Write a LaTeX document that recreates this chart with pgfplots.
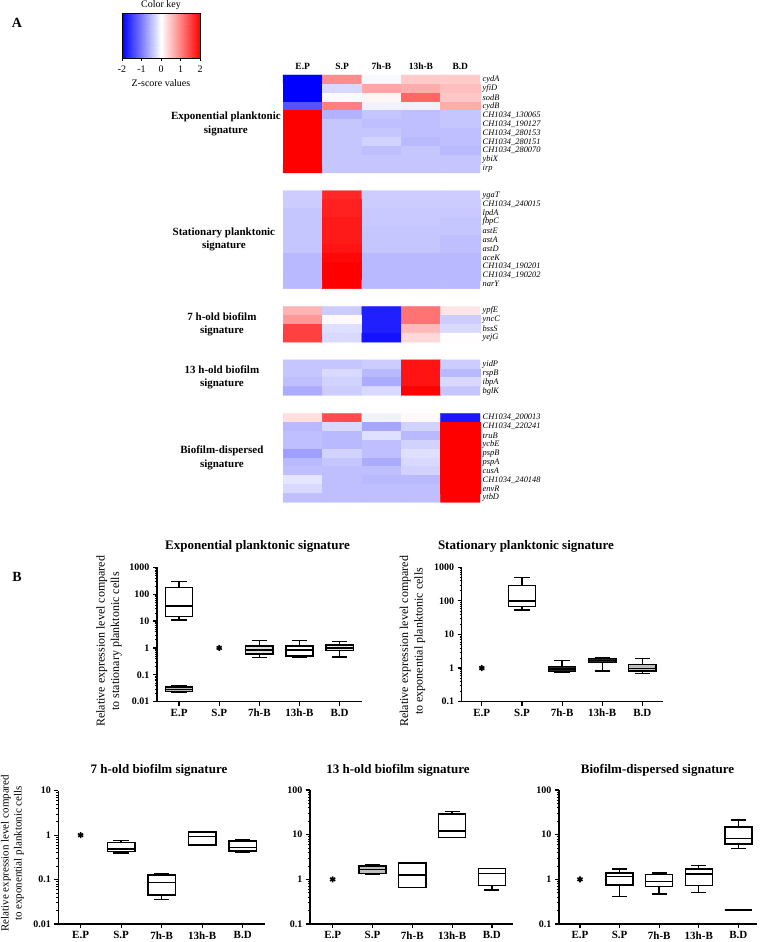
\documentclass[border=0pt]{standalone}
\usepackage{fontspec}
\setmainfont{Liberation Serif}
\usepackage{pgfplots}
\pgfplotsset{compat=1.18}
\usepgfplotslibrary{statistics}
\pgfplotsset{
  bwrmap/.style={colormap={bwr}{rgb255=(0,0,255) rgb255=(255,255,255) rgb255=(255,0,0)},
    point meta min=-2, point meta max=2},
  myboxaxis/.style={
    scale only axis, axis lines*=left,
    axis line style={line width=1.5pt},
    tick align=outside, major tick length=4pt, minor tick length=2.2pt,
    major tick style={black, line width=1.2pt},
    minor tick style={black, line width=0.7pt},
    xtick={0,1,2,3,4}, xticklabels={E.P,S.P,7h-B,13h-B,B.D},
    xticklabel style={font=\bfseries\fontsize{11}{11}\selectfont},
    yticklabel style={font=\bfseries\fontsize{10}{10}\selectfont},
    clip=false,
    boxplot/draw direction=y,
    boxplot/box extend=0.68, boxplot/whisker extend=0.38,
    ylabel style={align=center, font=\fontsize{12}{14.5}\selectfont, anchor=center},
  },
  mybox/.style={black, line width=1.4pt, fill=white, solid, mark=none},
  myast/.style={only marks, mark=asterisk, mark size=3pt, line width=1.6pt, black},
}
\begin{document}
\begin{tikzpicture}[x=1pt,y=1pt]
\path[use as bounding box] (0,0) rectangle (761,942);

\node[font=\bfseries\fontsize{14}{14}\selectfont] at (17,919) {A};
\node[font=\bfseries\fontsize{14}{14}\selectfont] at (17,365) {B};

% ---------------- colour key
\node[font=\fontsize{10}{10}\selectfont] at (161,937.3) {Color key};
\node[font=\fontsize{10}{10}\selectfont] at (161,858.5) {Z-score values};
\begin{axis}[at={(122pt,883.7pt)}, anchor=south west, scale only axis,
  width=78pt, height=45pt, xmin=-2, xmax=2, ymin=0, ymax=1, enlargelimits=false,
  bwrmap, axis on top,
  xtick={-2,-1,0,1,2}, xticklabels={-2,-1,0,1,2}, ytick=\empty,
  tick align=outside, major tick length=3pt, xtick pos=lower,
  axis line style={line width=0.6pt}, tick style={black, line width=0.6pt},
  xticklabel style={font=\fontsize{10}{10}\selectfont, inner sep=0.5pt, yshift=-3.5pt}]
\addplot[surf, shader=interp, mesh/cols=5, point meta=x] coordinates {
(-2,0) (-1,0) (0,0) (1,0) (2,0)
(-2,1) (-1,1) (0,1) (1,1) (2,1)};
\end{axis}

% ---------------- heatmap
\begin{axis}[at={(283pt,439.7pt)}, anchor=south west, scale only axis,
  width=197pt, height=427.3pt,
  xmin=-0.5, xmax=4.5, ymin=-0.5, ymax=47.5, y dir=reverse, enlargelimits=false,
  bwrmap, clip=false,
  axis line style={draw=none}, major tick length=0pt, tick style={draw=none},
  xtick={0,1,2,3,4}, xticklabels={E.P,S.P,7h-B,13h-B,B.D}, xticklabel pos=top,
  xticklabel style={font=\bfseries\fontsize{9.5}{9.5}\selectfont, yshift=2pt},
  ytick={0,1,2,3,4,5,6,7,8,9,10,13,14,15,16,17,18,19,20,21,22,23,26,27,28,29,32,33,34,35,38,39,40,41,42,43,44,45,46,47},
  yticklabels={cydA,yfiD,sodB,cydB,CH1034\_130065,CH1034\_190127,CH1034\_280153,CH1034\_280151,CH1034\_280070,ybiX,irp,
    ygaT,CH1034\_240015,lpdA,fbpC,astE,astA,astD,aceK,CH1034\_190201,CH1034\_190202,narY,
    ypfE,yncC,bssS,yejG,
    yidP,rspB,ibpA,bglK,
    CH1034\_200013,CH1034\_220241,truB,ycbE,pspB,pspA,cusA,CH1034\_240148,envR,ytbD},
  yticklabel pos=right,
  yticklabel style={font=\itshape\fontsize{8.4}{8.4}\selectfont, inner sep=2.5pt}]
\addplot[matrix plot*, point meta=explicit, mesh/cols=5] coordinates {
(0,0)[-2] (1,0)[0.9] (2,0)[-0.05] (3,0)[0.42] (4,0)[0.42]
(0,1)[-2] (1,1)[-0.3] (2,1)[0.7] (3,1)[0.65] (4,1)[0.5]
(0,2)[-2] (1,2)[-0.03] (2,2)[0.08] (3,2)[1.2] (4,2)[0.45]
(0,3)[-1.35] (1,3)[1.0] (2,3)[-0.1] (3,3)[-0.12] (4,3)[0.65]
(0,4)[2] (1,4)[-0.6] (2,4)[-0.45] (3,4)[-0.5] (4,4)[-0.45]
(0,5)[2] (1,5)[-0.45] (2,5)[-0.5] (3,5)[-0.5] (4,5)[-0.45]
(0,6)[2] (1,6)[-0.45] (2,6)[-0.45] (3,6)[-0.5] (4,6)[-0.5]
(0,7)[2] (1,7)[-0.45] (2,7)[-0.35] (3,7)[-0.55] (4,7)[-0.5]
(0,8)[2] (1,8)[-0.45] (2,8)[-0.5] (3,8)[-0.45] (4,8)[-0.55]
(0,9)[2] (1,9)[-0.45] (2,9)[-0.45] (3,9)[-0.45] (4,9)[-0.45]
(0,10)[2] (1,10)[-0.45] (2,10)[-0.45] (3,10)[-0.45] (4,10)[-0.45]
};
\addplot[matrix plot*, point meta=explicit, mesh/cols=5] coordinates {
(0,13)[-0.4] (1,13)[1.7] (2,13)[-0.4] (3,13)[-0.4] (4,13)[-0.4]
(0,14)[-0.4] (1,14)[1.75] (2,14)[-0.4] (3,14)[-0.4] (4,14)[-0.4]
(0,15)[-0.45] (1,15)[1.75] (2,15)[-0.42] (3,15)[-0.42] (4,15)[-0.42]
(0,16)[-0.45] (1,16)[1.8] (2,16)[-0.42] (3,16)[-0.42] (4,16)[-0.45]
(0,17)[-0.45] (1,17)[1.8] (2,17)[-0.45] (3,17)[-0.45] (4,17)[-0.45]
(0,18)[-0.45] (1,18)[1.8] (2,18)[-0.45] (3,18)[-0.45] (4,18)[-0.5]
(0,19)[-0.45] (1,19)[1.85] (2,19)[-0.45] (3,19)[-0.45] (4,19)[-0.5]
(0,20)[-0.55] (1,20)[1.95] (2,20)[-0.55] (3,20)[-0.55] (4,20)[-0.55]
(0,21)[-0.55] (1,21)[2] (2,21)[-0.55] (3,21)[-0.55] (4,21)[-0.55]
(0,22)[-0.55] (1,22)[2] (2,22)[-0.55] (3,22)[-0.55] (4,22)[-0.55]
(0,23)[-0.55] (1,23)[2] (2,23)[-0.55] (3,23)[-0.55] (4,23)[-0.55]
};
\addplot[matrix plot*, point meta=explicit, mesh/cols=5] coordinates {
(0,26)[0.6] (1,26)[-0.4] (2,26)[-1.75] (3,26)[1.1] (4,26)[0.2]
(0,27)[0.8] (1,27)[0.05] (2,27)[-1.75] (3,27)[1.1] (4,27)[-0.4]
(0,28)[1.5] (1,28)[-0.25] (2,28)[-1.75] (3,28)[0.55] (4,28)[-0.3]
(0,29)[1.5] (1,29)[-0.3] (2,29)[-1.85] (3,29)[0.3] (4,29)[0.02]
};
\addplot[matrix plot*, point meta=explicit, mesh/cols=5] coordinates {
(0,32)[-0.45] (1,32)[-0.45] (2,32)[-0.4] (3,32)[1.85] (4,32)[-0.4]
(0,33)[-0.45] (1,33)[-0.3] (2,33)[-0.55] (3,33)[1.85] (4,33)[-0.55]
(0,34)[-0.5] (1,34)[-0.35] (2,34)[-0.65] (3,34)[1.85] (4,34)[-0.3]
(0,35)[-0.65] (1,35)[-0.4] (2,35)[-0.3] (3,35)[2] (4,35)[-0.45]
};
\addplot[matrix plot*, point meta=explicit, mesh/cols=5] coordinates {
(0,38)[0.25] (1,38)[1.4] (2,38)[-0.1] (3,38)[0.05] (4,38)[-1.8]
(0,39)[-0.55] (1,39)[-0.3] (2,39)[-0.7] (3,39)[-0.35] (4,39)[2]
(0,40)[-0.5] (1,40)[-0.55] (2,40)[-0.25] (3,40)[-0.55] (4,40)[2]
(0,41)[-0.5] (1,41)[-0.55] (2,41)[-0.5] (3,41)[-0.35] (4,41)[2]
(0,42)[-0.75] (1,42)[-0.35] (2,42)[-0.5] (3,42)[-0.25] (4,42)[2]
(0,43)[-0.55] (1,43)[-0.45] (2,43)[-0.65] (3,43)[-0.3] (4,43)[2]
(0,44)[-0.5] (1,44)[-0.5] (2,44)[-0.5] (3,44)[-0.35] (4,44)[2]
(0,45)[-0.2] (1,45)[-0.5] (2,45)[-0.55] (3,45)[-0.55] (4,45)[2]
(0,46)[-0.3] (1,46)[-0.5] (2,46)[-0.5] (3,46)[-0.5] (4,46)[2]
(0,47)[-0.5] (1,47)[-0.5] (2,47)[-0.5] (3,47)[-0.5] (4,47)[2]
};
\begin{scope}[every node/.style={font=\bfseries\fontsize{11}{13.3}\selectfont, align=center}]
\node at (axis cs:-1.95,5) {Exponential planktonic\\signature};
\node at (axis cs:-2.0,18) {Stationary planktonic\\signature};
\node at (axis cs:-2.05,27.5) {7 h-old biofilm\\signature};
\node at (axis cs:-2.05,33.5) {13 h-old biofilm\\signature};
\node at (axis cs:-2.05,42.5) {Biofilm-dispersed\\signature};
\end{scope}
\end{axis}

% ---------------- B: box plots
\begin{scope}[every node/.style={font=\bfseries\fontsize{13}{13}\selectfont}]
\node at (257.5,395.3) {Exponential planktonic signature};
\node at (526,395.3) {Stationary planktonic signature};
\node at (159,171.3) {7 h-old biofilm signature};
\node at (398,171.3) {13 h-old biofilm signature};
\node at (657.5,171.3) {Biofilm-dispersed signature};
\end{scope}

% plot 1
\begin{axis}[myboxaxis, ymode=log, at={(157pt,240.3pt)}, anchor=south west, width=204.7pt, height=134.4pt,
  xmin=-0.55, xmax=4.55, ymin=0.01, ymax=1000,
  ytick={0.01,0.1,1,10,100,1000}, yticklabels={0.01,0.1,1,10,100,1000},
  minor ytick={0.02,0.03,0.04,0.05,0.06,0.07,0.08,0.09,0.2,0.3,0.4,0.5,0.6,0.7,0.8,0.9,2,3,4,5,6,7,8,9,20,30,40,50,60,70,80,90,200,300,400,500,600,700,800,900},
  ylabel={Relative expression level compared\\to stationary planktonic cells},
  ylabel style={at={(axis description cs:-0.235,0.45)}}]
\addplot[mybox, boxplot prepared={draw position=0, lower whisker=11, lower quartile=14.6, median=36, upper quartile=180, upper whisker=293}] coordinates {};
\addplot[mybox, fill=gray!55, boxplot prepared={draw position=0, lower whisker=0.022, lower quartile=0.024, median=0.029, upper quartile=0.035, upper whisker=0.038}] coordinates {};
\addplot[myast] coordinates {(1,1)};
\addplot[mybox, fill=gray!25, boxplot prepared={draw position=2, lower whisker=0.45, lower quartile=0.59, median=0.83, upper quartile=1.17, upper whisker=1.86}] coordinates {};
\addplot[mybox, boxplot prepared={draw position=3, lower whisker=0.46, lower quartile=0.5, median=0.83, upper quartile=1.2, upper whisker=1.86}] coordinates {};
\addplot[mybox, fill=gray!20, boxplot prepared={draw position=4, lower whisker=0.46, lower quartile=0.8, median=1.0, upper quartile=1.3, upper whisker=1.7}] coordinates {};
\end{axis}

% plot 2
\begin{axis}[myboxaxis, ymode=log, at={(461.7pt,240.3pt)}, anchor=south west, width=201.6pt, height=134.4pt,
  xmin=-0.5, xmax=4.52, ymin=0.1, ymax=1000,
  ytick={0.1,1,10,100,1000}, yticklabels={0.1,1,10,100,1000},
  minor ytick={0.2,0.3,0.4,0.5,0.6,0.7,0.8,0.9,2,3,4,5,6,7,8,9,20,30,40,50,60,70,80,90,200,300,400,500,600,700,800,900},
  ylabel={Relative expression level compared\\to exponential planktonic cells},
  ylabel style={at={(axis description cs:-0.244,0.45)}}]
\addplot[myast] coordinates {(0,1)};
\addplot[mybox, boxplot prepared={draw position=1, lower whisker=54, lower quartile=68, median=100, upper quartile=284, upper whisker=500}] coordinates {};
\addplot[mybox, fill=black!85, boxplot prepared={draw position=2, lower whisker=0.75, lower quartile=0.79, median=0.93, upper quartile=1.1, upper whisker=1.65}] coordinates {};
\addplot[mybox, fill=black!85, boxplot prepared={draw position=3, lower whisker=0.81, lower quartile=1.45, median=1.65, upper quartile=1.9, upper whisker=2.0}] coordinates {};
\addplot[mybox, fill=gray!50, boxplot prepared={draw position=4, lower whisker=0.7, lower quartile=0.81, median=0.97, upper quartile=1.3, upper whisker=1.9}] coordinates {};
\end{axis}

% plot 3
\begin{axis}[myboxaxis, ymode=log, at={(58.3pt,18pt)}, anchor=south west, width=206.7pt, height=133.3pt,
  xmin=-0.55, xmax=4.55, ymin=0.01, ymax=10,
  ytick={0.01,0.1,1,10}, yticklabels={0.01,0.1,1,10},
  minor ytick={0.02,0.03,0.04,0.05,0.06,0.07,0.08,0.09,0.2,0.3,0.4,0.5,0.6,0.7,0.8,0.9,2,3,4,5,6,7,8,9},
  ylabel={Relative expression level compared\\to exponential planktonic cells},
  ylabel style={at={(axis description cs:-0.222,0.53)}, font=\fontsize{11}{13}\selectfont}]
\addplot[myast] coordinates {(0,1)};
\addplot[mybox, boxplot prepared={draw position=1, lower whisker=0.4, lower quartile=0.43, median=0.49, upper quartile=0.69, upper whisker=0.75}] coordinates {};
\addplot[mybox, boxplot prepared={draw position=2, lower whisker=0.036, lower quartile=0.045, median=0.085, upper quartile=0.127, upper whisker=0.133}] coordinates {};
\addplot[mybox, boxplot prepared={draw position=3, lower whisker=0.58, lower quartile=0.6, median=0.92, upper quartile=1.18, upper whisker=1.19}] coordinates {};
\addplot[mybox, boxplot prepared={draw position=4, lower whisker=0.41, lower quartile=0.44, median=0.53, upper quartile=0.74, upper whisker=0.8}] coordinates {};
\end{axis}

% plot 4
\begin{axis}[myboxaxis, ymode=log, at={(310pt,18pt)}, anchor=south west, width=203pt, height=134pt,
  xmin=-0.57, xmax=4.53, ymin=0.1, ymax=100,
  ytick={0.1,1,10,100}, yticklabels={0.1,1,10,100},
  minor ytick={0.2,0.3,0.4,0.5,0.6,0.7,0.8,0.9,2,3,4,5,6,7,8,9,20,30,40,50,60,70,80,90}]
\addplot[myast] coordinates {(0,1)};
\addplot[mybox, fill=gray!50, boxplot prepared={draw position=1, lower whisker=1.3, lower quartile=1.36, median=1.66, upper quartile=2.0, upper whisker=2.1}] coordinates {};
\addplot[mybox, boxplot prepared={draw position=2, lower whisker=0.66, lower quartile=0.66, median=1.25, upper quartile=2.3, upper whisker=2.36}] coordinates {};
\addplot[mybox, boxplot prepared={draw position=3, lower whisker=8.7, lower quartile=8.7, median=12, upper quartile=29, upper whisker=32.7}] coordinates {};
\addplot[mybox, boxplot prepared={draw position=4, lower whisker=0.58, lower quartile=0.72, median=1.34, upper quartile=1.76, upper whisker=1.76}] coordinates {};
\end{axis}

% plot 5
\begin{axis}[myboxaxis, ymode=log, at={(559pt,18pt)}, anchor=south west, width=198pt, height=134pt,
  xmin=-0.53, xmax=4.47, ymin=0.1, ymax=100,
  ytick={0.1,1,10,100}, yticklabels={0.1,1,10,100},
  minor ytick={0.2,0.3,0.4,0.5,0.6,0.7,0.8,0.9,2,3,4,5,6,7,8,9,20,30,40,50,60,70,80,90}]
\addplot[myast] coordinates {(0,1)};
\addplot[mybox, boxplot prepared={draw position=1, lower whisker=0.41, lower quartile=0.75, median=1.15, upper quartile=1.4, upper whisker=1.7}] coordinates {};
\addplot[mybox, boxplot prepared={draw position=2, lower whisker=0.47, lower quartile=0.69, median=0.89, upper quartile=1.27, upper whisker=1.4}] coordinates {};
\addplot[mybox, boxplot prepared={draw position=3, lower whisker=0.5, lower quartile=0.73, median=1.32, upper quartile=1.7, upper whisker=2.06}] coordinates {};
\addplot[mybox, boxplot prepared={draw position=4, lower whisker=4.9, lower quartile=6.2, median=8.3, upper quartile=15, upper whisker=21.3}] coordinates {};
\addplot[mybox, boxplot prepared={draw position=4, lower whisker=0.206, lower quartile=0.206, median=0.206, upper quartile=0.206, upper whisker=0.206}] coordinates {};
\end{axis}
\end{tikzpicture}
\end{document}
